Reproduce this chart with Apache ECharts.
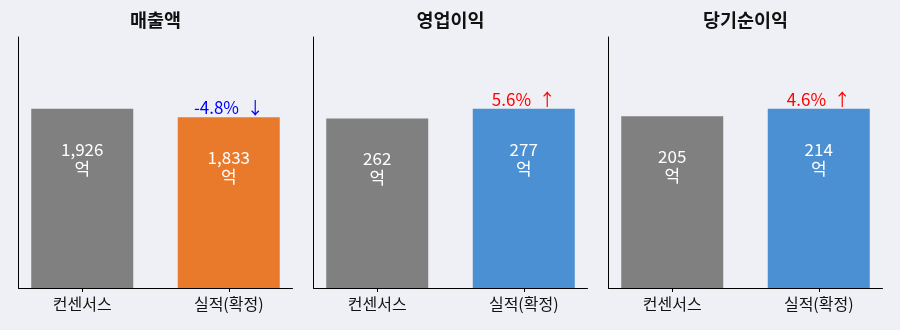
<!DOCTYPE html>
<html>
<head>
<meta charset="utf-8">
<script src="https://cdn.jsdelivr.net/npm/echarts@6/dist/echarts.min.js"></script>
<style>
html,body{margin:0;padding:0;background:#eff0f5;}
#c{width:900px;height:330px;}
</style>
</head>
<body>
<div id="c"></div>
<script>
const titles = ['매출액', '영업이익', '당기순이익'];
const categories = ['컨센서스', '실적(확정)'];
const consensus = [1926, 262, 205];
const actual = [1833, 277, 214];
const changeText = ['-4.8%  ↓', '5.6%  ↑', '4.6%  ↑'];
const changeUp = [false, true, true];
const actualColors = ['#ea7a2b', '#4a90d2', '#4a90d2'];

const FONT = 'Noto Sans CJK KR';
const lefts = [18.5, 313.5, 608.5];
const W = 274;

const chart = echarts.init(document.getElementById('c'), null, {renderer: 'canvas'});
const grids = [], xAxes = [], yAxes = [], series = [], titleArr = [];
titles.forEach((t, i) => {
  grids.push({left: lefts[i], top: 37, width: W, height: 251});
  titleArr.push({
    text: t, left: lefts[i] + W / 2, top: 11, textAlign: 'center', padding: 0,
    textStyle: {fontFamily: FONT, fontSize: 18.5, fontWeight: 'bold', color: '#111'}
  });
  xAxes.push({
    type: 'value', gridIndex: i, min: -0.435, max: 1.435,
    axisLine: {show: true, onZero: false, lineStyle: {color: '#000', width: 1}},
    axisTick: {show: true, customValues: [0, 1], length: 4, lineStyle: {color: '#000', width: 1}},
    axisLabel: {
      show: true, customValues: [0, 1],
      fontFamily: FONT, fontSize: 16, color: '#111', margin: 8,
      formatter: v => categories[Math.round(v)]
    },
    splitLine: {show: false}
  });
  const mx = Math.max(consensus[i], actual[i]) * 1.4;
  yAxes.push({
    type: 'value', gridIndex: i, min: 0, max: mx,
    axisLine: {show: true, onZero: false, lineStyle: {color: '#000', width: 1}},
    axisTick: {show: false}, axisLabel: {show: false}, splitLine: {show: false}
  });
  series.push({
    type: 'bar', xAxisIndex: i, yAxisIndex: i, barWidth: 102,
    data: [
      {value: [0, consensus[i]], itemStyle: {color: '#808080'}},
      {value: [1, actual[i]], itemStyle: {color: actualColors[i]}}
    ],
    label: {
      show: true, position: 'insideTop', distance: 31,
      fontFamily: FONT, fontSize: 17, lineHeight: 19, color: '#fff',
      formatter: p => p.value[1].toLocaleString('en-US') + '\n억'
    },
    animation: false
  });
  series.push({
    type: 'bar', xAxisIndex: i, yAxisIndex: i, barWidth: 102, barGap: '-100%',
    data: [
      {value: [1, actual[i]], itemStyle: {color: 'transparent'}}
    ],
    label: {
      show: true, position: 'top', distance: 1,
      fontFamily: FONT, fontSize: 17, lineHeight: 17,
      color: changeUp[i] ? '#ff0000' : '#0000ff',
      formatter: () => changeText[i]
    },
    silent: true, animation: false
  });
});

chart.setOption({
  backgroundColor: '#eff0f5',
  animation: false,
  title: titleArr,
  grid: grids,
  xAxis: xAxes,
  yAxis: yAxes,
  series: series
});
</script>
</body>
</html>
